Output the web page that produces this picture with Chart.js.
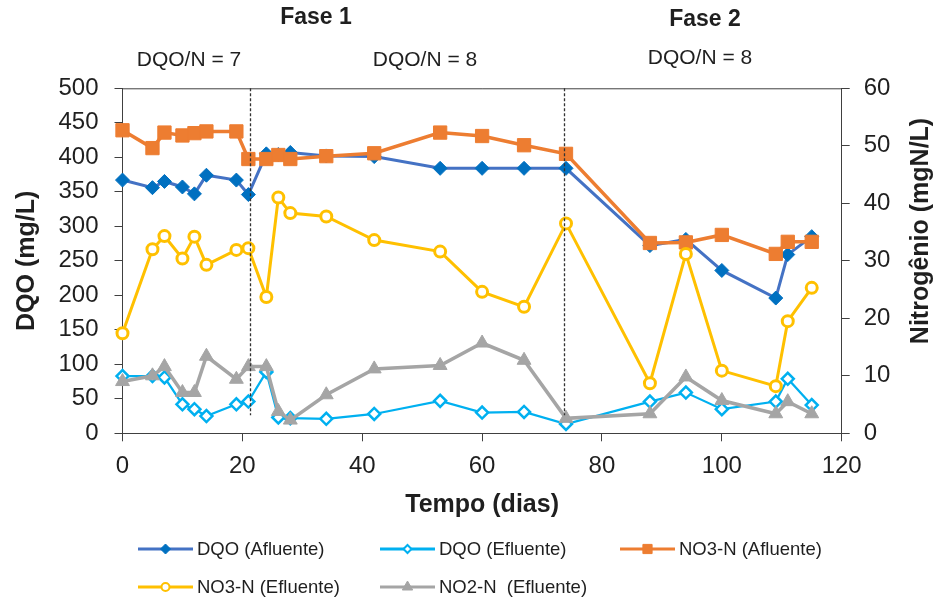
<!DOCTYPE html>
<html>
<head>
<meta charset="utf-8">
<script src="https://cdn.jsdelivr.net/npm/chart.js@4.4.1/dist/chart.umd.min.js"></script>
<style>
  html, body { margin: 0; padding: 0; background: #fff; }
  #wrap { position: relative; width: 938px; height: 598px; }
</style>
</head>
<body>
<div id="wrap"><canvas id="c"></canvas></div>
<script>
// Sampling days (x axis, "Tempo (dias)")
const days = [0, 5, 7, 10, 12, 14, 19, 21, 24, 26, 28, 34, 42, 53, 60, 67, 74, 88, 94, 100, 109, 111, 115];

// DQO (mg/L) – left axis
const dqoAfluente = [367, 356, 365, 357, 347, 374, 367, 346, 405, 404, 407, 402, 401, 384, 384, 384, 384, 272, 281, 236, 196, 259, 285];
const dqoEfluente = [83, 83, 81, 42, 35, 25, 42, 46, 89, 23, 22, 21, 28, 47, 30, 31, 13.5, 46, 59, 35, 46, 79, 41];

// Nitrogen (mgN/L) – right axis
const no3Afluente = [52.7, 49.6, 52.3, 51.8, 52.2, 52.5, 52.5, 47.7, 47.7, 48.4, 47.7, 48.2, 48.7, 52.3, 51.7, 50.1, 48.6, 33.1, 33.2, 34.5, 31.2, 33.3, 33.3];
const no3Efluente = [17.4, 32.0, 34.3, 30.4, 34.2, 29.3, 31.9, 32.2, 23.7, 41.0, 38.3, 37.7, 33.6, 31.6, 24.6, 22.0, 36.5, 8.7, 31.2, 10.9, 8.2, 19.5, 25.3];
const no2Efluente = [9.0, 10.0, 11.6, 7.1, 7.1, 13.4, 9.4, 11.6, 11.6, 3.8, 2.3, 6.7, 11.2, 11.8, 15.7, 12.7, 2.6, 3.4, 9.8, 5.7, 3.4, 5.5, 3.4];

// Phase boundaries (days) and header labels
const phaseBoundaries = [21.3, 73.7];
const phaseLabels = ['Fase 1', 'Fase 2'];
const ratioLabels = ['DQO/N = 7', 'DQO/N = 8', 'DQO/N = 8'];

// Axis ranges
const xTicks = { min: 0, max: 120, step: 20 };
const dqoTicks = { min: 0, max: 500, step: 50 };
const nTicks = { min: 0, max: 60, step: 10 };

const FONT = '"Liberation Sans", Arial, Helvetica, sans-serif';
const TEXT = '#1f1f1f';
const AXIS = '#404040';

const pts = vals => days.map((d, i) => ({ x: d, y: vals[i] }));

const datasets = [
  { label: 'DQO (Afluente)', data: pts(dqoAfluente), yAxisID: 'y', order: 5,
    borderColor: '#4472C4', borderWidth: 3, backgroundColor: '#0070C0',
    pointStyle: 'rectRot', pointRadius: 7, pointBorderColor: '#0070C0', pointBorderWidth: 1,
    legendRadius: 5 },
  { label: 'DQO (Efluente)', data: pts(dqoEfluente), yAxisID: 'y', order: 4,
    borderColor: '#00B0F0', borderWidth: 2.25, backgroundColor: '#ffffff',
    pointStyle: 'rectRot', pointRadius: 6, pointBorderColor: '#00B0F0', pointBorderWidth: 2.5,
    legendRadius: 4 },
  { label: 'NO3-N (Afluente)', data: pts(no3Afluente), yAxisID: 'y1', order: 3,
    borderColor: '#ED7D31', borderWidth: 3.5, backgroundColor: '#ED7D31',
    pointStyle: 'rect', pointRadius: 9.4, pointBorderColor: '#ED7D31', pointBorderWidth: 1,
    legendRadius: 6.5 },
  { label: 'NO3-N (Efluente)', data: pts(no3Efluente), yAxisID: 'y1', order: 2,
    borderColor: '#FFC000', borderWidth: 3, backgroundColor: '#ffffff',
    pointStyle: 'circle', pointRadius: 5.5, pointBorderColor: '#FFC000', pointBorderWidth: 3,
    legendRadius: 4 },
  { label: 'NO2-N  (Efluente)', data: pts(no2Efluente), yAxisID: 'y1', order: 1,
    borderColor: '#A5A5A5', borderWidth: 3.5, backgroundColor: '#A5A5A5',
    pointStyle: 'triangle', pointRadius: 8, pointBorderColor: '#A5A5A5', pointBorderWidth: 1,
    legendRadius: 6 }
];
datasets.forEach(d => {
  d.tension = 0;
  d.clip = false;
  d.pointHoverRadius = d.pointRadius;
  d.pointBackgroundColor = d.backgroundColor;
});

// Header texts, phase dividers, plot frame, right-hand title and the legend
const decorations = {
  id: 'decorations',
  afterDatasetsDraw(chart) {
    const { ctx, chartArea: a, scales } = chart;
    const xs = scales.x, yl = scales.y;
    ctx.save();

    // top frame line
    ctx.strokeStyle = AXIS; ctx.lineWidth = 1;
    ctx.beginPath(); ctx.moveTo(a.left, a.top + 0.5); ctx.lineTo(a.right, a.top + 0.5); ctx.stroke();

    // dashed phase dividers
    ctx.strokeStyle = '#333'; ctx.lineWidth = 1.3; ctx.setLineDash([3, 2]);
    phaseBoundaries.forEach(d => {
      const px = Math.round(xs.getPixelForValue(d)) + 0.5;
      ctx.beginPath(); ctx.moveTo(px, a.top); ctx.lineTo(px, yl.getPixelForValue(26)); ctx.stroke();
    });
    ctx.setLineDash([]);

    // header
    ctx.fillStyle = TEXT; ctx.textAlign = 'center'; ctx.textBaseline = 'middle';
    ctx.font = 'bold 23px ' + FONT;
    ctx.fillText(phaseLabels[0], 316, 18);
    ctx.fillText(phaseLabels[1], 705, 20);
    ctx.font = '21px ' + FONT;
    ctx.fillText(ratioLabels[0], 189, 60);
    ctx.fillText(ratioLabels[1], 425, 60);
    ctx.fillText(ratioLabels[2], 700, 58);

    // right axis title, reading bottom to top
    ctx.save();
    ctx.translate(921, 231); ctx.rotate(-Math.PI / 2);
    ctx.font = 'bold 25px ' + FONT;
    ctx.fillText('Nitrogênio (mgN/L)', 0, 0);
    ctx.restore();

    // legend
    const slots = [[138, 549], [380, 549], [620, 549], [138, 587], [380, 587]];
    ctx.font = '18.5px ' + FONT; ctx.textAlign = 'left';
    chart.data.datasets.forEach((ds, i) => {
      const [lx, ly] = slots[i];
      ctx.strokeStyle = ds.borderColor; ctx.lineWidth = 3;
      ctx.beginPath(); ctx.moveTo(lx, ly); ctx.lineTo(lx + 55, ly); ctx.stroke();
      ctx.fillStyle = ds.backgroundColor; ctx.strokeStyle = ds.pointBorderColor;
      ctx.lineWidth = Math.min(ds.pointBorderWidth, 2);
      Chart.helpers.drawPoint(ctx, { pointStyle: ds.pointStyle, radius: ds.legendRadius, borderWidth: ctx.lineWidth, rotation: 0 }, lx + 27.5, ly);
      ctx.fillStyle = TEXT;
      ctx.fillText(ds.label, lx + 59, ly + 1);
    });
    ctx.restore();
  }
};

const axisGrid = { display: true, drawOnChartArea: false, drawTicks: true, tickLength: 8, tickColor: AXIS, tickWidth: 1 };
const axisBorder = { display: true, color: AXIS, width: 1 };

new Chart(document.getElementById('c'), {
  type: 'line',
  data: { datasets },
  plugins: [decorations],
  options: {
    responsive: true,
    maintainAspectRatio: false,
    animation: false,
    events: [],
    layout: { padding: { top: 88.3, bottom: 78, left: 0, right: 0 } },
    plugins: { legend: { display: false }, tooltip: { enabled: false } },
    scales: {
      x: {
        type: 'linear', position: 'bottom',
        min: xTicks.min, max: xTicks.max,
        ticks: { stepSize: xTicks.step, color: TEXT, font: { family: FONT, size: 24 }, padding: 11, maxRotation: 0 },
        grid: axisGrid, border: axisBorder,
        title: { display: true, text: 'Tempo (dias)', color: TEXT, font: { family: FONT, size: 25, weight: 'bold' }, padding: { top: 0, bottom: 0 } },
        afterFit: s => { s.height = 86.7; }
      },
      y: {
        type: 'linear', position: 'left',
        min: dqoTicks.min, max: dqoTicks.max,
        ticks: { stepSize: dqoTicks.step, color: TEXT, font: { family: FONT, size: 24 }, padding: 16 },
        grid: axisGrid, border: axisBorder,
        title: { display: true, text: 'DQO (mg/L)', color: TEXT, font: { family: FONT, size: 25, weight: 'bold' }, padding: { top: 12, bottom: 0 } },
        afterFit: s => { s.width = 122.5; }
      },
      y1: {
        type: 'linear', position: 'right',
        min: nTicks.min, max: nTicks.max,
        ticks: { stepSize: nTicks.step, color: TEXT, font: { family: FONT, size: 24 }, padding: 14 },
        grid: axisGrid, border: axisBorder,
        afterFit: s => { s.width = 96.3; }
      }
    }
  }
});
</script>
</body>
</html>
